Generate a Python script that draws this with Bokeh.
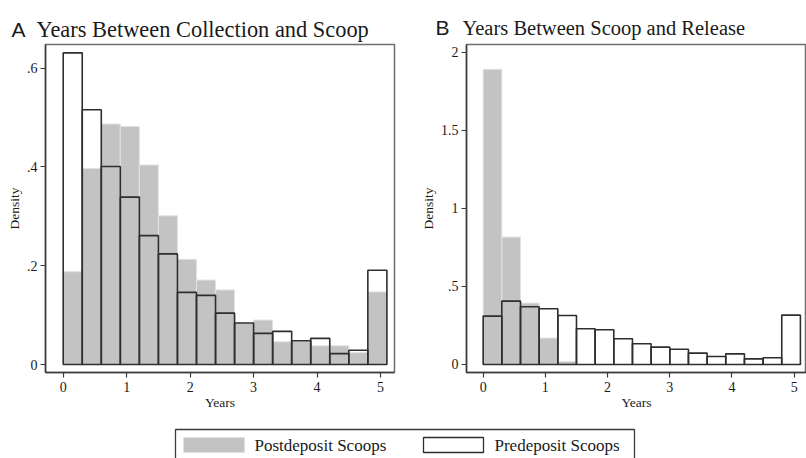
from bokeh.plotting import figure
from bokeh.layouts import column, row
from bokeh.models import Range1d, FixedTicker
from bokeh.embed import file_html
from bokeh.resources import INLINE
from bokeh.core.properties import value

# ---------------- data ----------------
SERIES = ["Postdeposit Scoops", "Predeposit Scoops"]
PANEL_LETTERS = ["A", "B"]
PANEL_TITLES = ["Years Between Collection and Scoop", "Years Between Scoop and Release"]

BIN_LEFT = [0.0, 0.3, 0.6, 0.9, 1.2, 1.5, 1.8, 2.1, 2.4, 2.7, 3.0, 3.3, 3.6, 3.9, 4.2, 4.5, 4.8]
BIN_WIDTH = 0.3

A_POST = [0.188, 0.397, 0.487, 0.482, 0.404, 0.301, 0.213, 0.171, 0.151, 0.083,
          0.090, 0.046, 0.047, 0.038, 0.038, 0.024, 0.147]
A_PRE = [0.631, 0.516, 0.401, 0.339, 0.261, 0.224, 0.146, 0.140, 0.104, 0.084,
         0.063, 0.067, 0.048, 0.053, 0.022, 0.029, 0.191]

B_POST = [1.890, 0.816, 0.393, 0.169, 0.019, 0.0, 0.0, 0.0, 0.0, 0.0,
          0.0, 0.0, 0.0, 0.0, 0.0, 0.0, 0.0]
B_PRE = [0.310, 0.406, 0.370, 0.357, 0.314, 0.229, 0.222, 0.165, 0.133, 0.111,
         0.098, 0.073, 0.051, 0.068, 0.036, 0.043, 0.316]

X_TICKS = [0, 1, 2, 3, 4, 5]
A_YTICKS = [0, 0.2, 0.4, 0.6]
A_YLABELS = ["0", ".2", ".4", ".6"]
B_YTICKS = [0, 0.5, 1, 1.5, 2]
B_YLABELS = ["0", ".5", "1", "1.5", "2"]

# ---------------- style ----------------
SERIF = "Liberation Serif"
SANS = "Liberation Sans"
GRAY = "#c3c3c3"
GRAY_EDGE = "#e2e2e2"
DARK = "#2e2e2e"
TXT = "#1a1a1a"
HDR_H = 42


def panel(post, pre, yticks, ylabels, xr, yr, left, right):
    p = figure(width=403, height=378, x_range=Range1d(*xr), y_range=Range1d(*yr),
               output_backend="svg", toolbar_location=None,
               min_border_left=left, min_border_right=right,
               min_border_top=44 - HDR_H, min_border_bottom=48)
    rights = [b + BIN_WIDTH for b in BIN_LEFT]
    p.quad(left=BIN_LEFT, right=rights, bottom=0, top=post,
           fill_color=GRAY, line_color=GRAY_EDGE, line_width=1)
    p.quad(left=BIN_LEFT, right=rights, bottom=0, top=pre,
           fill_alpha=0, line_color=DARK, line_width=1.6)
    p.grid.visible = False
    p.outline_line_color = "#6e6e6e"
    p.outline_line_width = 1.5
    p.background_fill_color = "white"
    p.border_fill_color = "white"

    for ax in (p.xaxis[0], p.yaxis[0]):
        ax.axis_line_color = "#3a3a3a"
        ax.axis_line_width = 1.5
        ax.major_tick_line_color = "#3a3a3a"
        ax.major_tick_line_width = 1.2
        ax.major_tick_out = 5
        ax.major_tick_in = 0
        ax.minor_tick_line_color = None
        ax.major_label_text_font = SERIF
        ax.major_label_text_font_size = "14px"
        ax.major_label_text_color = TXT
        ax.axis_label_text_font = SERIF
        ax.axis_label_text_font_size = "13.5px"
        ax.axis_label_text_font_style = "normal"
        ax.axis_label_text_color = TXT

    p.xaxis.ticker = FixedTicker(ticks=X_TICKS)
    p.xaxis.axis_label = "Years"
    p.xaxis.major_label_standoff = 4
    p.xaxis.axis_label_standoff = 0

    p.yaxis.ticker = FixedTicker(ticks=yticks)
    p.yaxis.major_label_overrides = {t: l for t, l in zip(yticks, ylabels)}
    p.yaxis.axis_label = "Density"
    p.yaxis.major_label_standoff = 3
    p.yaxis.axis_label_standoff = 2
    return p


pA = panel(A_POST, A_PRE, A_YTICKS, A_YLABELS, (-0.279, 5.22), (-0.0162, 0.648), 45, 9)
pB = panel(B_POST, B_PRE, B_YTICKS, B_YLABELS, (-0.268, 5.198), (-0.0513, 2.049), 63, 0)

# ---------------- header with panel titles ----------------
hdr = figure(width=806, height=HDR_H, x_range=Range1d(0, 806), y_range=Range1d(HDR_H, 0),
             output_backend="svg", toolbar_location=None, min_border=0,
             x_axis_location=None, y_axis_location=None)
hdr.grid.visible = False
hdr.outline_line_color = None
hdr.text(x=[11, 435], y=[29, 27], text=PANEL_LETTERS, text_font=value(SANS),
         text_font_size="21px", text_color=TXT, text_baseline="alphabetic")
hdr.text(x=[36], y=[29], text=[PANEL_TITLES[0]], text_font=value(SERIF),
         text_font_size="22.4px", text_color=TXT, text_baseline="alphabetic")
hdr.text(x=[462], y=[27], text=[PANEL_TITLES[1]], text_font=value(SERIF),
         text_font_size="20.5px", text_color=TXT, text_baseline="alphabetic")

# ---------------- legend strip ----------------
leg = figure(width=806, height=38, x_range=Range1d(0, 806), y_range=Range1d(38, 0),
             output_backend="svg", toolbar_location=None, min_border=0,
             x_axis_location=None, y_axis_location=None)
leg.grid.visible = False
leg.outline_line_color = None
leg.quad(left=[175], right=[634], top=[9], bottom=[60], fill_color="white",
         line_color="#3a3a3a", line_width=1.3)
leg.quad(left=[183], right=[244], top=[17], bottom=[32], fill_color=GRAY, line_color=GRAY_EDGE)
leg.quad(left=[423], right=[483], top=[17], bottom=[32], fill_color="white",
         line_color=DARK, line_width=1.3)
leg.text(x=[254, 494], y=[24.5, 24.5], text=SERIES, text_font=value(SERIF),
         text_font_size="17px", text_color=TXT, text_baseline="middle")

layout = column(hdr, row(pA, pB), leg)
open("out.html", "w").write(file_html(layout, INLINE))
